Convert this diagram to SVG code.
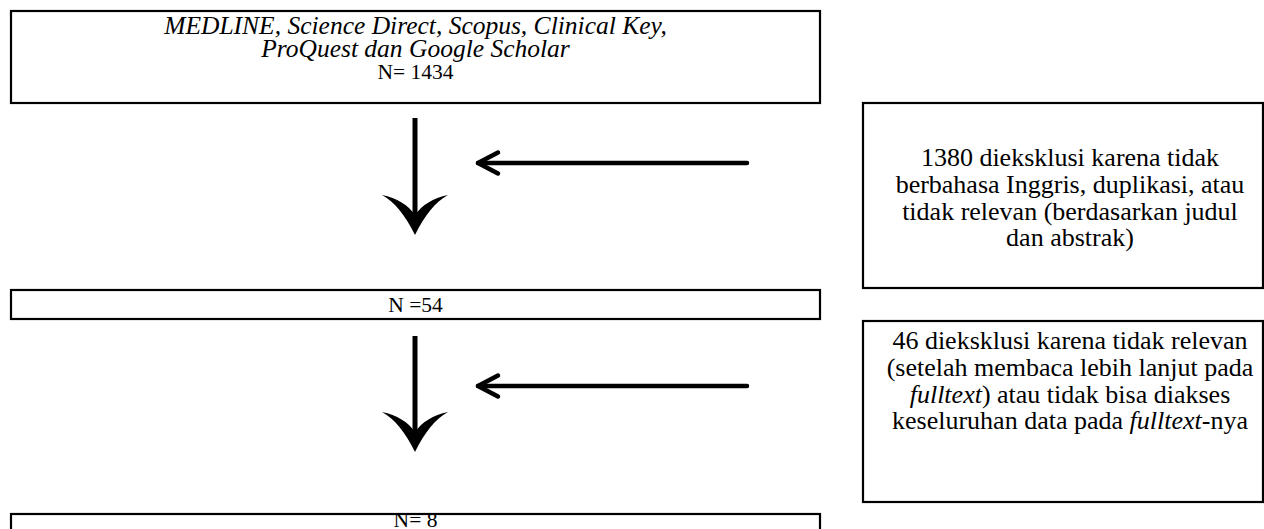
<svg xmlns="http://www.w3.org/2000/svg" width="1264" height="529" viewBox="0 0 1264 529">
  <style>
    .box { fill: #ffffff; stroke: #000000; stroke-width: 2.2; }
    .t { font-family: "Liberation Serif", "Times New Roman", serif; fill: #000000; text-anchor: middle; }
    .tl { font-size: 25.5px; }
    .tn { font-size: 21.5px; }
    .tr { font-size: 26px; }
    .it { font-style: italic; }
    .shaft { stroke: #000000; stroke-width: 5; fill: none; }
    .feed { stroke: #000000; stroke-width: 4.5; fill: none; stroke-linecap: round; }
  </style>
  <defs>
    <marker id="barb" markerUnits="userSpaceOnUse" viewBox="-1 -35 43 70" markerWidth="43" markerHeight="70" refX="20" refY="0" orient="auto">
      <path d="M40,0 C20,-10 7,-20 0,-33 C3,-18 10,-7 20,0 C10,7 3,18 0,33 C7,20 20,10 40,0 Z" fill="#000000"/>
    </marker>
    <marker id="chev" markerUnits="userSpaceOnUse" viewBox="-25 -15 30 30" markerWidth="30" markerHeight="30" refX="0" refY="0" orient="auto">
      <path d="M-20,-10.5 L0,0 L-20,10.5" fill="none" stroke="#000000" stroke-width="4.5" stroke-linecap="round" stroke-linejoin="round"/>
    </marker>
  </defs>

  <g id="node-sources">
    <rect class="box" x="11" y="11" width="809" height="92"/>
    <text class="t tl it" x="415.5" y="34">MEDLINE, Science Direct, Scopus, Clinical Key,</text>
    <text class="t tl it" x="415.5" y="57">ProQuest dan Google Scholar</text>
    <text class="t tn" x="415.5" y="79">N= 1434</text>
  </g>

  <g id="node-excl1">
    <rect class="box" x="863" y="103" width="400" height="185"/>
    <text class="t tr" x="1070" y="166">1380 dieksklusi karena tidak</text>
    <text class="t tr" x="1070" y="193">berbahasa Inggris, duplikasi, atau</text>
    <text class="t tr" x="1070" y="220">tidak relevan (berdasarkan judul</text>
    <text class="t tr" x="1070" y="246">dan abstrak)</text>
  </g>

  <g id="node-n54">
    <rect class="box" x="11" y="290" width="809" height="29"/>
    <text class="t tn" x="415.5" y="312">N =54</text>
  </g>

  <g id="node-excl2">
    <rect class="box" x="863" y="321" width="400" height="181"/>
    <text class="t tr" x="1070" y="349">46 dieksklusi karena tidak relevan</text>
    <text class="t tr" x="1070" y="376">(setelah membaca lebih lanjut pada</text>
    <text class="t tr" x="1070" y="403"><tspan class="it">fulltext</tspan>) atau tidak bisa diakses</text>
    <text class="t tr" x="1070" y="429">keseluruhan data pada <tspan class="it">fulltext</tspan>-nya</text>
  </g>

  <g id="node-n8">
    <rect class="box" x="11" y="514" width="809" height="30"/>
    <text class="t tn" x="415.5" y="527">N= 8</text>
  </g>

  <g id="connectors">
    <line class="shaft" x1="415" y1="118" x2="415" y2="215" marker-end="url(#barb)"/>
    <line class="feed" x1="747" y1="163" x2="478" y2="163" marker-end="url(#chev)"/>
    <line class="shaft" x1="415" y1="336" x2="415" y2="432" marker-end="url(#barb)"/>
    <line class="feed" x1="747" y1="386" x2="478" y2="386" marker-end="url(#chev)"/>
  </g>
</svg>
